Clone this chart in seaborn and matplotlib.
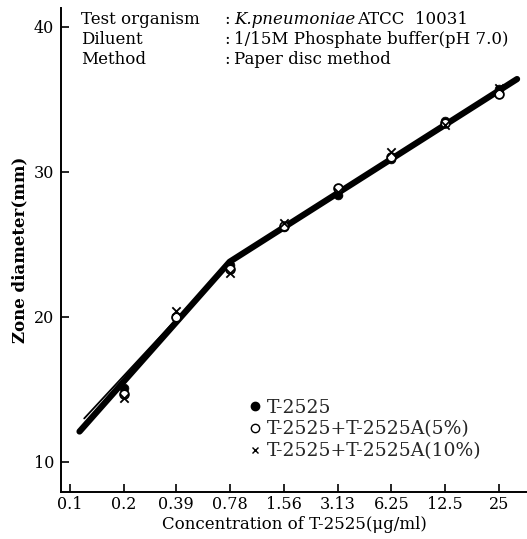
import matplotlib
matplotlib.use("Agg")
import matplotlib.pyplot as plt
import seaborn as sns
import pandas as pd
from matplotlib.lines import Line2D

# concentrations (ug/ml) and zone diameters (mm)
conc = [0.2, 0.39, 0.78, 1.56, 3.13, 6.25, 12.5, 25]
zona_t2525 = [15.1, 20.0, 23.6, 26.2, 28.4, 30.9, 33.5, 35.7]
zona_5pct = [14.7, 20.0, 23.3, 26.3, 28.9, 31.0, 33.4, 35.4]
zona_10pct = [14.4, 20.4, 23.0, 26.5, 28.6, 31.4, 33.2, 35.8]

# hand-drawn regression lines (two segments)
linha_x = [0.113, 0.78, 31.5]
linha_y = [12.1, 23.8, 36.4]
linha2_x = [0.12, 0.78]
linha2_y = [13.0, 23.8]

xticks = [0.1, 0.2, 0.39, 0.78, 1.56, 3.13, 6.25, 12.5, 25]
xtick_labels = ["0.1", "0.2", "0.39", "0.78", "1.56", "3.13", "6.25", "12.5", "25"]
yticks = [10, 20, 30, 40]

sns.set_theme(style="ticks")
plt.rcParams['font.family'] = ['DejaVu Serif', 'Liberation Serif']

fig = plt.figure(figsize=(5.27, 5.39), dpi=100)
ax = fig.add_axes([0.1157, 0.0872, 0.8843, 0.898])

df_l = pd.DataFrame({"x": linha_x, "y": linha_y})
df_l2 = pd.DataFrame({"x": linha2_x, "y": linha2_y})
sns.lineplot(data=df_l, x="x", y="y", ax=ax, color="black", lw=4.5, estimator=None, sort=False)
sns.lineplot(data=df_l2, x="x", y="y", ax=ax, color="black", lw=1.3, estimator=None, sort=False)

df = pd.DataFrame({"x": conc, "a": zona_t2525, "b": zona_5pct, "c": zona_10pct})
sns.scatterplot(data=df, x="x", y="a", ax=ax, marker="o", s=40, color="black",
                edgecolor="black", zorder=3)
sns.scatterplot(data=df, x="x", y="b", ax=ax, marker="o", s=40, color="white",
                edgecolor="black", linewidth=1.3, zorder=4)
sns.scatterplot(data=df, x="x", y="c", ax=ax, marker="x", s=36, color="black",
                linewidth=1.3, zorder=5)

ax.set_xscale("log", base=2)
ax.set_xlim(0.089, 35.8)
ax.set_ylim(7.93, 41.3)
ax.set_xticks(xticks)
ax.set_xticklabels(xtick_labels)
ax.minorticks_off()
ax.set_yticks(yticks)
ax.tick_params(axis="both", direction="in", length=6, width=1.2, labelsize=11.5, colors="black")
ax.tick_params(axis="y", pad=5)
ax.tick_params(axis="x", pad=3)
for lado in ["top", "right"]:
    ax.spines[lado].set_visible(False)
for lado in ["left", "bottom"]:
    ax.spines[lado].set_linewidth(1.4)
    ax.spines[lado].set_color("black")

ax.set_xlabel("Concentration of T-2525(μg/ml)", fontsize=12, labelpad=2, color="black")
ax.set_ylabel("Zone diameter(mm)", fontsize=12, fontweight="bold", labelpad=4, color="black")

# header block
fs = 12
x_rot = 81 / 527
x_dp = 224 / 527
x_val = 234 / 527
y_lin = [1 - 19 / 539, 1 - 39 / 539, 1 - 59 / 539]
fig.text(x_rot, y_lin[0], "Test organism", fontsize=fs, va="center", color="black")
fig.text(x_rot, y_lin[1], "Diluent", fontsize=fs, va="center", color="black")
fig.text(x_rot, y_lin[2], "Method", fontsize=fs, va="center", color="black")
for yy in y_lin:
    fig.text(x_dp, yy, ":", fontsize=fs, va="center", color="black")
fig.text(x_val, y_lin[0], "K.pneumoniae", fontsize=fs, va="center", style="italic", color="black")
fig.text(357 / 527, y_lin[0], "ATCC  10031", fontsize=fs, va="center", color="black")
fig.text(x_val, y_lin[1], "1/15M Phosphate buffer(pH 7.0)", fontsize=fs, va="center", color="black")
fig.text(x_val, y_lin[2], "Paper disc method", fontsize=fs, va="center", color="black")

handles = [
    Line2D([], [], marker="o", ls="none", color="black", markersize=6),
    Line2D([], [], marker="o", ls="none", markerfacecolor="white", markeredgecolor="black", markersize=6),
    Line2D([], [], marker="x", ls="none", color="black", markersize=5),
]
labels = ["T-2525", "T-2525+T-2525A(5%)", "T-2525+T-2525A(10%)"]
ax.legend(handles, labels, loc="lower left", bbox_to_anchor=(0.385, 0.05), frameon=False,
          fontsize=13.5, handletextpad=0.2, handlelength=0.8, labelspacing=0.2, borderaxespad=0)

fig.savefig("out.png", dpi=100)
